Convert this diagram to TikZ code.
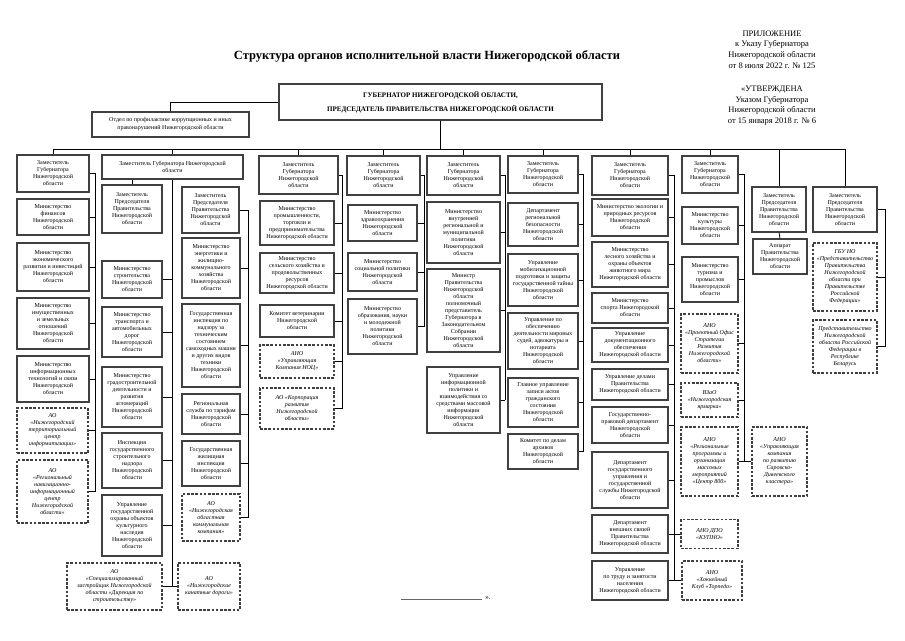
\documentclass[tikz,border=0pt]{standalone}
\usepackage{fontspec}
\setmainfont{Liberation Serif}
\usetikzlibrary{positioning}
\tikzset{
  unit/.style={draw=black!75,line width=1.05pt,fill=white,align=center,
               inner sep=0.5pt,font=\fontsize{6}{7}\selectfont},
  dunit/.style={unit,dash pattern=on 2.6pt off 1.6pt,
               font=\fontsize{6}{7}\selectfont\itshape},
  sz/.style 2 args={minimum width=#1,minimum height=#2},
  link/.style={draw=black,line width=0.75pt},
}

\begin{document}
\begin{tikzpicture}[x=1pt,y=-1pt]
  \useasboundingbox (0,0) rectangle (905,640);
  \node[font=\fontsize{12.5}{15}\selectfont\bfseries] (title) at (427,56)
    {Структура органов исполнительной власти Нижегородской области};
  \node[align=center,font=\fontsize{8.5}{10.8}\selectfont] (appx) at (772,49.5)
    {ПРИЛОЖЕНИЕ\\к Указу Губернатора\\Нижегородской области\\от 8 июля 2022 г. № 125};
  \node[align=center,font=\fontsize{8.5}{10.8}\selectfont] (appy) at (772,105.5)
    {«УТВЕРЖДЕНА\\Указом Губернатора\\Нижегородской области\\от 15 января 2018 г. № 6};

  \node[unit,sz={323}{36},font=\fontsize{7}{8}\selectfont\bfseries] (gov) at (440.5,102)
    {ГУБЕРНАТОР НИЖЕГОРОДСКОЙ ОБЛАСТИ,\\[6pt]ПРЕДСЕДАТЕЛЬ ПРАВИТЕЛЬСТВА НИЖЕГОРОДСКОЙ ОБЛАСТИ};
  \node[unit,sz={157}{25},font=\fontsize{6}{8}\selectfont] (anti) at (170.5,124.5)
    {Отдел по профилактике коррупционных и иных\\правонарушений Нижегородской области};

  % heads
  \node[unit,sz={72}{37}] (c1) at (53,173.5) {Заместитель\\Губернатора\\Нижегородской\\области};
  \node[unit,sz={141}{24}] (c2) at (172.5,167) {Заместитель Губернатора Нижегородской\\области};
  \node[unit,sz={79}{38}] (c3) at (298.5,175) {Заместитель\\Губернатора\\Нижегородской\\области};
  \node[unit,sz={73}{39}] (c4) at (383.5,175.5) {Заместитель\\Губернатора\\Нижегородской\\области};
  \node[unit,sz={73}{39}] (c5) at (463.5,175.5) {Заместитель\\Губернатора\\Нижегородской\\области};
  \node[unit,sz={70}{37}] (c6) at (543,174.5) {Заместитель\\Губернатора\\Нижегородской\\области};
  \node[unit,sz={76}{39}] (c7) at (630,175.5) {Заместитель\\Губернатора\\Нижегородской\\области};
  \node[unit,sz={56}{37}] (c8) at (710,174.5) {Заместитель\\Губернатора\\Нижегородской\\области};
  \node[unit,sz={54}{45}] (c9) at (779,209.5) {Заместитель\\Председателя\\Правительства\\Нижегородской\\области};
  \node[unit,sz={64}{45}] (c10) at (845,209.5) {Заместитель\\Председателя\\Правительства\\Нижегородской\\области};

  % column 1
  \node[unit,sz={72}{36}] (c1a) at (53,217) {Министерство\\финансов\\Нижегородской\\области};
  \node[unit,sz={72}{48}] (c1b) at (53,267) {Министерство\\экономического\\развития и инвестиций\\Нижегородской\\области};
  \node[unit,sz={72}{51}] (c1c) at (53,323.5) {Министерство\\имущественных\\и земельных\\отношений\\Нижегородской\\области};
  \node[unit,sz={72}{46}] (c1d) at (53,379) {Министерство\\информационных\\технологий и связи\\Нижегородской\\области};
  \node[dunit,sz={71}{45}] (c1e) at (52.5,430.5) {АО\\«Нижегородский\\территориальный\\центр\\информатизации»};
  \node[dunit,sz={71}{63}] (c1f) at (52.5,491.5) {АО\\«Региональный\\навигационно-\\информационный\\центр\\Нижегородской\\области»};

  % column 2
  \node[unit,sz={60}{48}] (c2a) at (132,209) {Заместитель\\Председателя\\Правительства\\Нижегородской\\области};
  \node[unit,sz={57}{46}] (c2b) at (210.5,210) {Заместитель\\Председателя\\Правительства\\Нижегородской\\области};
  \node[unit,sz={60}{37}] (c2a1) at (132,279.5) {Министерство\\строительства\\Нижегородской\\области};
  \node[unit,sz={60}{50}] (c2a2) at (132,332) {Министерство\\транспорта и\\автомобильных\\дорог\\Нижегородской\\области};
  \node[unit,sz={60}{60}] (c2a3) at (132,397) {Министерство\\градостроительной\\деятельности и\\развития\\агломераций\\Нижегородской\\области};
  \node[unit,sz={60}{55}] (c2a4) at (132,460.5) {Инспекция\\государственного\\строительного\\надзора\\Нижегородской\\области};
  \node[unit,sz={60}{61}] (c2a5) at (132,525.5) {Управление\\государственной\\охраны объектов\\культурного\\наследия\\Нижегородской\\области};
  \node[unit,sz={58}{60}] (c2b1) at (211,268) {Министерство\\энергетики и\\жилищно-\\коммунального\\хозяйства\\Нижегородской\\области};
  \node[unit,sz={58}{83}] (c2b2) at (211,345.5) {Государственная\\инспекция по\\надзору за\\техническим\\состоянием\\самоходных машин\\и других видов\\техники\\Нижегородской\\области};
  \node[unit,sz={58}{40}] (c2b3) at (211,414) {Региональная\\служба по тарифам\\Нижегородской\\области};
  \node[unit,sz={58}{45}] (c2b4) at (211,463.5) {Государственная\\жилищная\\инспекция\\Нижегородской\\области};
  \node[dunit,sz={58}{47}] (c2b5) at (211,517.5) {АО\\«Нижегородская\\областная\\коммунальная\\компания»};
  \node[dunit,sz={95}{47}] (c2d1) at (114.5,586.5) {АО\\«Специализированный\\застройщик Нижегородской\\области «Дирекция по\\строительству»};
  \node[dunit,sz={62}{47}] (c2d2) at (209,586.5) {АО\\«Нижегородские\\канатные дороги»};

  % column 3
  \node[unit,sz={74}{44}] (c3a) at (297,223) {Министерство\\промышленности,\\торговли и\\предпринимательства\\Нижегородской области};
  \node[unit,sz={74}{40}] (c3b) at (297,273) {Министерство\\сельского хозяйства и\\продовольственных\\ресурсов\\Нижегородской области};
  \node[unit,sz={74}{32}] (c3c) at (297,321) {Комитет ветеринарии\\Нижегородской\\области};
  \node[dunit,sz={74}{33}] (c3d) at (297,361.5) {АНО\\«Управляющая\\Компания НОЦ»};
  \node[dunit,sz={74}{41}] (c3e) at (297,408.5) {АО «Корпорация\\развития\\Нижегородской\\области»};

  % column 4
  \node[unit,sz={69}{36}] (c4a) at (382.5,223) {Министерство\\здравоохранения\\Нижегородской\\области};
  \node[unit,sz={69}{38}] (c4b) at (382.5,272) {Министерство\\социальной политики\\Нижегородской\\области};
  \node[unit,sz={69}{55}] (c4c) at (382.5,326.5) {Министерство\\образования, науки\\и молодежной\\политики\\Нижегородской\\области};

  % column 5
  \node[unit,sz={73}{61}] (c5a) at (463.5,232.5) {Министерство\\внутренней\\региональной и\\муниципальной\\политики\\Нижегородской\\области};
  \node[unit,sz={73}{83}] (c5b) at (463.5,310.5) {Министр\\Правительства\\Нижегородской\\области\\полномочный\\представитель\\Губернатора в\\Законодательном\\Собрании\\Нижегородской\\области};
  \node[unit,sz={73}{66}] (c5c) at (463.5,400) {Управление\\информационной\\политики и\\взаимодействия со\\средствами массовой\\информации\\Нижегородской\\области};

  % column 6
  \node[unit,sz={70}{43}] (c6a) at (543,224.5) {Департамент\\региональной\\безопасности\\Нижегородской\\области};
  \node[unit,sz={70}{52}] (c6b) at (543,280) {Управление\\мобилизационной\\подготовки и защиты\\государственной тайны\\Нижегородской\\области};
  \node[unit,sz={70}{56}] (c6c) at (543,341) {Управление по\\обеспечению\\деятельности мировых\\судей, адвокатуры и\\нотариата\\Нижегородской\\области};
  \node[unit,sz={70}{49}] (c6d) at (543,402.5) {Главное управление\\записи актов\\гражданского\\состояния\\Нижегородской\\области};
  \node[unit,sz={70}{35}] (c6e) at (543,451.5) {Комитет по делам\\архивов\\Нижегородской\\области};

  % column 7
  \node[unit,sz={76}{37}] (c7a) at (630,217.5) {Министерство экологии и\\природных ресурсов\\Нижегородской\\области};
  \node[unit,sz={76}{45}] (c7b) at (630,264.5) {Министерство\\лесного хозяйства и\\охраны объектов\\животного мира\\Нижегородской области};
  \node[unit,sz={76}{30}] (c7c) at (630,308) {Министерство\\спорта Нижегородской\\области};
  \node[unit,sz={76}{34}] (c7d) at (630,345) {Управление\\документационного\\обеспечения\\Нижегородской области};
  \node[unit,sz={76}{31}] (c7e) at (630,384.5) {Управление делами\\Правительства\\Нижегородской области};
  \node[unit,sz={76}{36}] (c7f) at (630,425) {Государственно-\\правовой департамент\\Нижегородской\\области};
  \node[unit,sz={76}{56}] (c7g) at (630,480) {Департамент\\государственного\\управления и\\государственной\\службы Нижегородской\\области};
  \node[unit,sz={76}{38}] (c7h) at (630,534) {Департамент\\внешних связей\\Правительства\\Нижегородской области};
  \node[unit,sz={76}{39}] (c7i) at (630,580.5) {Управление\\по труду и занятости\\населения\\Нижегородской области};

  % column 8
  \node[unit,sz={56}{37}] (c8a) at (710,225.5) {Министерство\\культуры\\Нижегородской\\области};
  \node[unit,sz={56}{45}] (c8b) at (710,279.5) {Министерство\\туризма и\\промыслов\\Нижегородской\\области};
  \node[dunit,sz={57}{59}] (c8c) at (709.5,343.5) {АНО\\«Проектный Офис\\Стратегии\\Развития\\Нижегородской\\области»};
  \node[dunit,sz={57}{34}] (c8d) at (709.5,400) {ВЗаО\\«Нижегородская\\ярмарка»};
  \node[dunit,sz={57}{69}] (c8e) at (709.5,461.5) {АНО\\«Региональные\\программы и\\организация\\массовых\\мероприятий\\«Центр 800»};
  \node[dunit,sz={57}{29}] (c8f) at (709.5,534) {АНО ДПО\\«КУПНО»};
  \node[dunit,sz={60}{39}] (c8g) at (712,580.5) {АНО\\«Хоккейный\\Клуб «Торпедо»};
  \node[dunit,sz={55}{69}] (c8h) at (779.5,461.5) {АНО\\«Управляющая\\компания\\по развитию\\Саровско-\\Дивеевского\\кластера»};

  % columns 9 and 10
  \node[unit,sz={54}{35}] (c9a) at (780,256.5) {Аппарат\\Правительства\\Нижегородской\\области};
  \node[dunit,sz={64}{68}] (c10a) at (845,277) {ГБУ НО\\«Представительство\\Правительства\\Нижегородской\\области при\\Правительстве\\Российской\\Федерации»};
  \node[dunit,sz={64}{53}] (c10b) at (845,346.5) {Представительство\\Нижегородской\\области Российской\\Федерации в\\Республике\\Беларусь};

  % connectors
  \coordinate (bus) at (0,149);
  \draw[link] (gov.west) -| (anti.north);
  \draw[link] (gov.south) -- (gov.south |- bus);
  \draw[link] (c1.north |- bus) -- (c10.north |- bus);
  \foreach \n in {c1,c2,c3,c4,c5,c6,c7,c8,c9,c10}
    \draw[link] (\n.north |- bus) -- (\n.north);

  \coordinate (s1) at (95,0);
  \draw[link] (c1.east) -- (c1.east -| s1) -- (c1f.east -| s1);
  \foreach \n in {c1a,c1b,c1c,c1d,c1e,c1f} \draw[link] (\n.east) -- (\n.east -| s1);

  \draw[link] (c2a.north |- c2.south) -- (c2a.north);
  \draw[link] (c2.south) -- (c2.south |- c2d1.east);
  \foreach \n in {c2a1,c2a2,c2a3,c2a4,c2a5} \draw[link] (\n.east) -- (\n.east -| c2.south);
  \draw[link] (c2d1.east) -- (c2d2.west);
  \coordinate (s2) at (248,0);
  \draw[link] (c2b.east) -- (c2b.east -| s2) -- (c2b5.east -| s2);
  \foreach \n in {c2b1,c2b2,c2b3,c2b4,c2b5} \draw[link] (\n.east) -- (\n.east -| s2);

  \coordinate (s3) at (342,0);
  \draw[link] (c3.east) -- (c3.east -| s3) -- (c3e.east -| s3);
  \foreach \n in {c3a,c3b,c3c,c3d,c3e} \draw[link] (\n.east) -- (\n.east -| s3);

  \coordinate (s4) at (424,0);
  \draw[link] (c4.east) -- (c4.east -| s4) -- (c4c.east -| s4);
  \foreach \n in {c4a,c4b,c4c} \draw[link] (\n.east) -- (\n.east -| s4);

  \coordinate (s5) at (505,0);
  \draw[link] (c5.east) -- (c5.east -| s5) -- (c5c.east -| s5);
  \foreach \n in {c5a,c5b,c5c} \draw[link] (\n.east) -- (\n.east -| s5);

  \coordinate (s6) at (583,0);
  \draw[link] (c6.east) -- (c6.east -| s6) -- (c6e.east -| s6);
  \foreach \n in {c6a,c6b,c6c,c6d,c6e} \draw[link] (\n.east) -- (\n.east -| s6);

  \coordinate (s7) at (674,0);
  \draw[link] (c7.east) -- (c7.east -| s7) -- (c7i.east -| s7);
  \foreach \n in {c7a,c7b,c7c,c7d,c7e,c7f,c7g,c7h,c7i} \draw[link] (\n.east) -- (\n.east -| s7);
  \draw[link] (c8f.west) -- (c8f.west -| s7);
  \draw[link] (c8g.west) -- (c8g.west -| s7);

  \coordinate (s8) at (744,0);
  \draw[link] (c8.east) -- (c8.east -| s8) -- (c8e.east -| s8);
  \foreach \n in {c8a,c8b,c8c,c8d} \draw[link] (\n.east) -- (\n.east -| s8);
  \draw[link] (c8e.east) -- (c8h.west);

  \draw[link] (c9.south) -- (c9a.north);
  \coordinate (s10) at (885,0);
  \draw[link] (c10.east) -- (c10.east -| s10) -- (c10b.east -| s10);
  \foreach \n in {c10a,c10b} \draw[link] (\n.east) -- (\n.east -| s10);

  \node[font=\fontsize{7}{8}\selectfont] (endq) at (488,598) {».};
  \coordinate (blank) at (401,599);
  \draw[black!60,line width=0.5pt] (blank) -- (endq.west |- blank);
\end{tikzpicture}
\end{document}
